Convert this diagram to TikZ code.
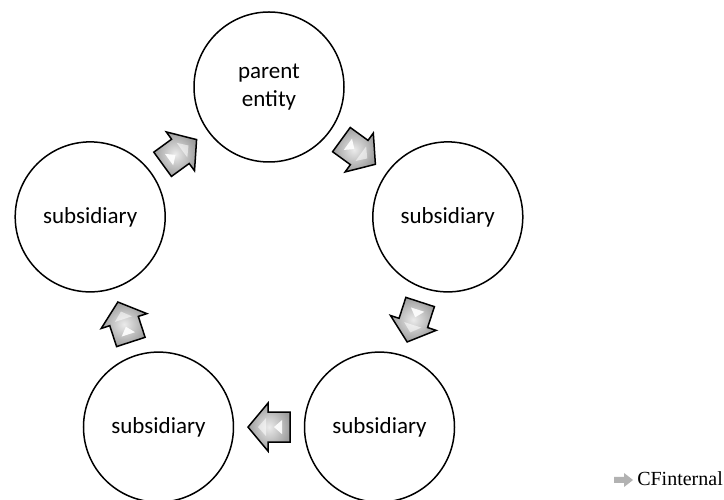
\documentclass[tikz,border=0pt]{standalone}
\usepackage{fontspec}
\setmainfont{Carlito}
\newfontfamily\legendfont{Liberation Serif}
\usetikzlibrary{calc}
\tikzset{
  entity/.style={circle, draw=black, line width=1.5pt, minimum size=150pt, inner sep=0pt,
    font=\fontsize{23}{28}\selectfont, align=center, fill=white},
  arrowbody/.style={draw=black, line width=1.5pt, line join=miter,
    inner color=black!8, outer color=black!38},
  glint/.style={fill=white, draw=none},
  blockarrow/.pic={
    \path[arrowbody] (-21,-15) -- (1,-15) -- (1,-24) -- (21,0) -- (1,24) -- (1,15) -- (-21,15) -- cycle;
    \path[glint, opacity=0.9] (-13,-7) -- (-13,7) -- (-5,0) -- cycle;
    \path[glint, opacity=0.55] (3,-9) -- (3,9) -- (11,0) -- cycle;
  },
  legendarrow/.style={fill=black!30, draw=none}
}
\begin{document}
\begin{tikzpicture}[x=1pt,y=1pt]
\useasboundingbox (0,0) rectangle (724,500);
\coordinate (c) at (269,225);
\node[entity] (p)  at ($(c)+(90:188)$)   {parent\\entity};
\node[entity] (s1) at ($(c)+(18:188)$)   {subsidiary};
\node[entity] (s2) at ($(c)+(-54:188)$)  {subsidiary};
\node[entity] (s3) at ($(c)+(-126:188)$) {subsidiary};
\node[entity] (s4) at ($(c)+(162:188)$)  {subsidiary};
\pic[rotate=-36]  at ($(p)!0.5!(s1)$)  {blockarrow};
\pic[rotate=-108] at ($(s1)!0.5!(s2)$) {blockarrow};
\pic[rotate=180]  at ($(s2)!0.5!(s3)$) {blockarrow};
\pic[rotate=108]  at ($(s3)!0.5!(s4)$) {blockarrow};
\pic[rotate=36]   at ($(s4)!0.5!(p)$)  {blockarrow};
% legend
\node[anchor=base east, inner sep=0pt, font=\legendfont\fontsize{20}{24}\selectfont] (leg) at (723,14) {CFinternal};
\coordinate (li) at ($(leg.base west)+(-13,6)$);
\path[legendarrow] ($(li)+(-10,-3)$) -- ($(li)+(0,-3)$) -- ($(li)+(0,-7)$) -- ($(li)+(9,0)$) -- ($(li)+(0,7)$) -- ($(li)+(0,3)$) -- ($(li)+(-10,3)$) -- cycle;
\end{tikzpicture}
\end{document}
